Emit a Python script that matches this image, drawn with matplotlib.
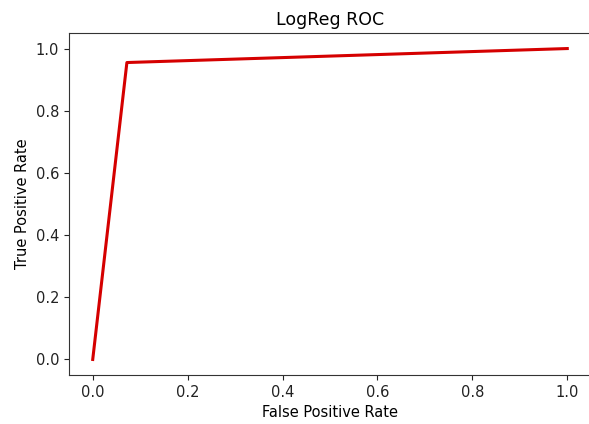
import matplotlib
matplotlib.use("Agg")
import matplotlib.pyplot as plt

fpr = [0.0, 0.072, 1.0]
tpr = [0.0, 0.955, 1.0]
title = "LogReg ROC"
xlabel = "False Positive Rate"
ylabel = "True Positive Rate"
ticks = [0.0, 0.2, 0.4, 0.6, 0.8, 1.0]

fig = plt.figure(figsize=(5.89, 4.24), dpi=100)
ax = fig.add_axes([69/589, 49/424, 522/589, 342/424])
ax.plot(fpr, tpr, color="#d50000", lw=2.2)
ax.set_xlim(-0.05, 1.05)
ax.set_ylim(-0.05, 1.05)
ax.set_xticks(ticks)
ax.set_yticks(ticks)
ax.tick_params(labelsize=10.5, colors="#222222")
for s in ax.spines.values():
    s.set_color("#333333")
ax.set_title(title, fontsize=12.5, pad=6)
ax.set_xlabel(xlabel, fontsize=10.5)
ax.set_ylabel(ylabel, fontsize=10.5)
fig.savefig("out.png", dpi=100)
